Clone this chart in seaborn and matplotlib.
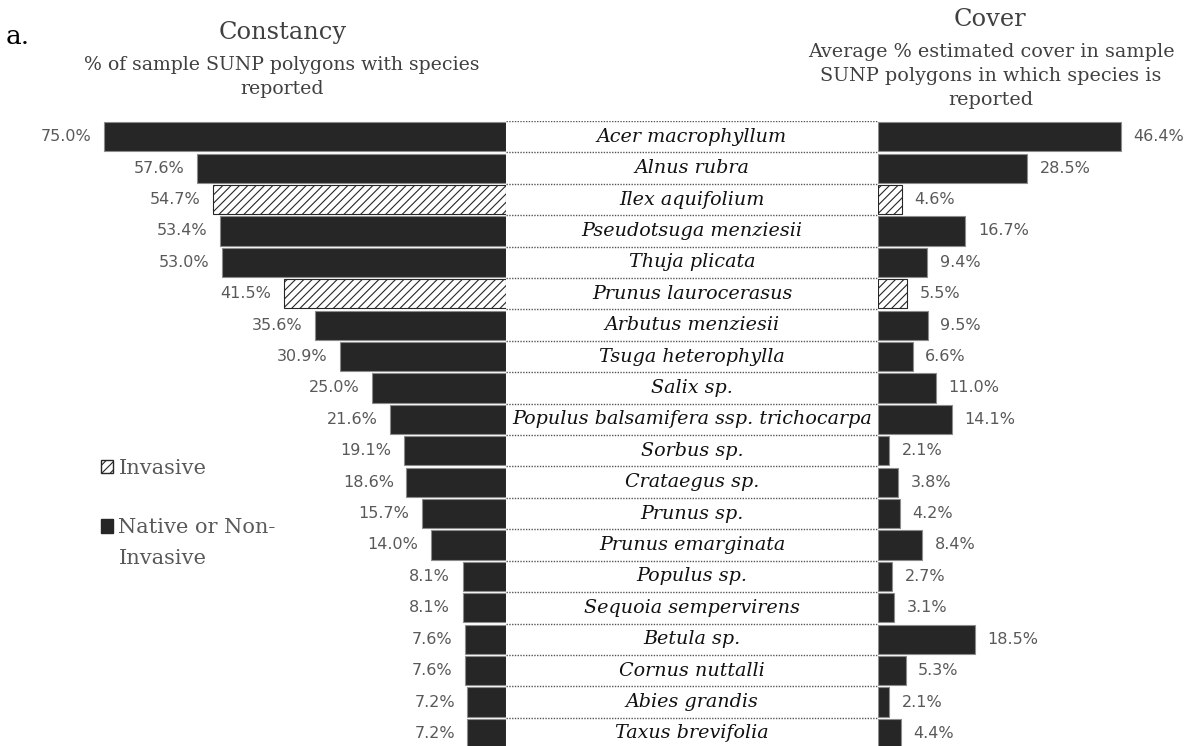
import pandas as pd
import matplotlib.pyplot as plt
from matplotlib.patches import Patch
import seaborn as sns

# Espécies e valores
especies = ['Acer macrophyllum', 'Alnus rubra', 'Ilex aquifolium', 'Pseudotsuga menziesii',
            'Thuja plicata', 'Prunus laurocerasus', 'Arbutus menziesii', 'Tsuga heterophylla',
            'Salix sp.', 'Populus balsamifera ssp. trichocarpa', 'Sorbus sp.', 'Crataegus sp.',
            'Prunus sp.', 'Prunus emarginata', 'Populus sp.', 'Sequoia sempervirens',
            'Betula sp.', 'Cornus nuttalli', 'Abies grandis', 'Taxus brevifolia']
constancia = [75.0, 57.6, 54.7, 53.4, 53.0, 41.5, 35.6, 30.9, 25.0, 21.6,
              19.1, 18.6, 15.7, 14.0, 8.1, 8.1, 7.6, 7.6, 7.2, 7.2]
cobertura = [46.4, 28.5, 4.6, 16.7, 9.4, 5.5, 9.5, 6.6, 11.0, 14.1,
             2.1, 3.8, 4.2, 8.4, 2.7, 3.1, 18.5, 5.3, 2.1, 4.4]
invasora = ['Ilex aquifolium', 'Prunus laurocerasus']

dados = pd.DataFrame({'especie': especies, 'constancia': constancia, 'cobertura': cobertura})

sns.set_style('white')
plt.rcParams['font.family'] = ['DejaVu Serif']
plt.rcParams['hatch.linewidth'] = 0.8

escuro = '#262626'
cinza = '#595959'
W, H = 1186, 746

fig = plt.figure(figsize=(W / 100, H / 100), dpi=100)
topo = (H - 121) / H
ax_esq = fig.add_axes([0, 0, 506 / W, topo])
ax_meio = fig.add_axes([506 / W, 0, 372 / W, topo])
ax_dir = fig.add_axes([878 / W, 0, 308 / W, topo])

ylim = (19.4, -0.5)


def desenha(ax, coluna, xlim):
    sns.barplot(data=dados, x=coluna, y='especie', order=especies, orient='h',
                color=escuro, saturation=1, width=0.93, edgecolor='#8c8c8c',
                linewidth=0.8, ax=ax)
    for barra, nome in zip(ax.patches, especies):
        if nome in invasora:
            barra.set_facecolor('white')
            barra.set_edgecolor(escuro)
            barra.set_hatch('////')
    ax.set_xlim(*xlim)
    ax.set_ylim(*ylim)
    ax.bar_label(ax.containers[0], fmt='{:.1f}%', padding=9, color=cinza,
                 fontsize=11.5, family='DejaVu Sans')
    ax.set_xticks([])
    ax.set_yticks([])
    ax.set_xlabel('')
    ax.set_ylabel('')
    sns.despine(ax=ax, left=True, bottom=True)


desenha(ax_esq, 'constancia', (94.4, 0))
desenha(ax_dir, 'cobertura', (0, 58.9))

# Coluna central com nomes
ax_meio.set_xlim(0, 1)
ax_meio.set_ylim(*ylim)
for i, nome in enumerate(especies):
    ax_meio.text(0.5, i, nome, ha='center', va='center', style='italic',
                 fontsize=13.8, color='#111111')
for i in range(len(especies) + 1):
    ax_meio.axhline(i - 0.5, color='#555555', linewidth=1, linestyle=(0, (1, 1)))
ax_meio.axis('off')

# Títulos
fig.text(6 / W, 1 - 36 / H, 'a.', fontsize=19, color='black', va='center')
fig.text(283 / W, 1 - 33 / H, 'Constancy', fontsize=17.4, color='#404040', ha='center', va='center')
fig.text(282 / W, 1 - 77 / H, '% of sample SUNP polygons with species\nreported',
         fontsize=13.6, color='#404040', ha='center', va='center', linespacing=1.45)
fig.text(990 / W, 1 - 20 / H, 'Cover', fontsize=17.4, color='#404040', ha='center', va='center')
fig.text(991 / W, 1 - 76 / H,
         'Average % estimated cover in sample\nSUNP polygons in which species is\nreported',
         fontsize=13.8, color='#404040', ha='center', va='center', linespacing=1.45)

# Legenda (a segunda linha do rótulo fica fora para o quadrado ficar na primeira)
alcas = [Patch(facecolor='white', edgecolor=escuro, hatch='////'),
         Patch(facecolor=escuro, edgecolor=escuro)]
leg = fig.legend(alcas, ['Invasive', 'Native or Non-'], loc='upper left',
                 bbox_to_anchor=(82 / W, 1 - 440 / H), frameon=False, fontsize=15,
                 labelcolor=cinza, handlelength=0.6, handleheight=0.6, handletextpad=0.25,
                 labelspacing=1.95)
fig.text(118.5 / W, 1 - 558 / H, 'Invasive', fontsize=15, color=cinza, va='center')

fig.savefig('out.png', dpi=100)
